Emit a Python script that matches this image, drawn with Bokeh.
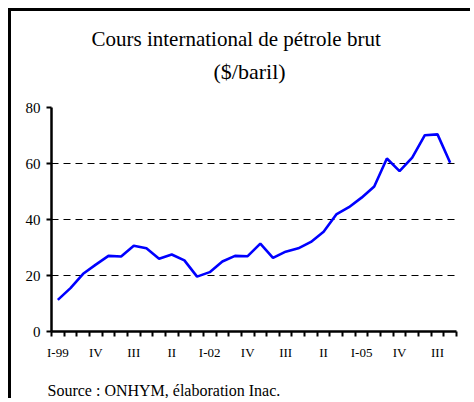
from bokeh.plotting import figure
from bokeh.models import Range1d, FixedTicker, Title
from bokeh.embed import file_html
from bokeh.resources import INLINE

# quarters Q1-1999 .. Q4-2006
quarters = [f"{q}-{y:02d}" for y in (99, 0, 1, 2, 3, 4, 5, 6) for q in ("I", "II", "III", "IV")]
prices = [11.3, 15.5, 20.6, 23.9, 27.0, 26.8, 30.6, 29.7, 26.0, 27.5, 25.4, 19.6,
          21.2, 25.0, 27.0, 26.9, 31.4, 26.3, 28.5, 29.7, 32.0, 35.6, 41.8, 44.4,
          47.8, 51.8, 61.8, 57.3, 62.1, 70.1, 70.4, 60.3]
tick_idx = [0, 3, 6, 9, 12, 15, 18, 21, 24, 27, 30]
tick_labels = ["I-99", "IV", "III", "II", "I-02", "IV", "III", "II", "I-05", "IV", "III"]
y_ticks = [0, 20, 40, 60, 80]

FONT = "Liberation Serif"

xs = [i + 0.5 for i in range(len(quarters))]

p = figure(width=462, height=390, output_backend="svg", toolbar_location=None,
           title=None, x_range=Range1d(0, len(quarters)), y_range=Range1d(0, 80),
           min_border_left=40, min_border_right=17, min_border_top=96,
           min_border_bottom=70)
p.styles = {"margin-left": "8px", "margin-top": "8px",
            "border-left": "3px solid black", "border-top": "3px solid black"}
p.outline_line_color = None
p.background_fill_color = "white"
p.border_fill_color = "white"

p.line(xs, prices, line_color="#0000FF", line_width=2.6)

# x axis
xa = p.xaxis[0]
xa.ticker = FixedTicker(ticks=[xs[i] for i in tick_idx], minor_ticks=list(range(len(quarters) + 1)))
xa.major_label_overrides = {xs[i]: lab for i, lab in zip(tick_idx, tick_labels)}
xa.major_tick_line_color = None
xa.major_tick_out = 5
xa.major_tick_in = 0
xa.minor_tick_out = 5
xa.minor_tick_in = 0
xa.minor_tick_line_width = 2
xa.minor_tick_line_color = "black"
xa.axis_line_width = 2.5
xa.axis_line_color = "black"
xa.major_label_text_font = FONT
xa.major_label_text_font_size = "13px"
xa.major_label_text_color = "black"
xa.major_label_standoff = 8

# y axis
ya = p.yaxis[0]
ya.ticker = FixedTicker(ticks=y_ticks, minor_ticks=[])
ya.major_tick_out = 5
ya.major_tick_in = 0
ya.major_tick_line_width = 2
ya.major_tick_line_color = "black"
ya.axis_line_width = 2.5
ya.axis_line_color = "black"
ya.major_label_text_font = FONT
ya.major_label_text_font_size = "15px"
ya.major_label_text_color = "black"
ya.major_label_standoff = 6

p.xgrid.grid_line_color = None
p.ygrid.ticker = FixedTicker(ticks=y_ticks[1:])
p.ygrid.grid_line_color = "black"
p.ygrid.grid_line_width = 1
p.ygrid.grid_line_dash = "7 5"

spacer = Title(text=" ", text_font_size="1px", standoff=19)
t2 = Title(text="($/baril)", align="left", offset=162, text_font=FONT, standoff=4,
           text_font_size="22px", text_font_style="normal", text_color="black")
t1 = Title(text="Cours international de pétrole brut", align="left", offset=40, standoff=8,
           text_font=FONT, text_font_size="21px", text_font_style="normal", text_color="black")
p.add_layout(spacer, "above")
p.add_layout(t2, "above")
p.add_layout(t1, "above")

spacer_b = Title(text=" ", text_font_size="1px", standoff=12)
src = Title(text="Source : ONHYM, élaboration Inac.", align="left", offset=-4, standoff=4,
            text_font=FONT, text_font_size="16px", text_font_style="normal", text_color="black")
p.add_layout(spacer_b, "below")
p.add_layout(src, "below")

open("out.html", "w").write(file_html(p, INLINE))
